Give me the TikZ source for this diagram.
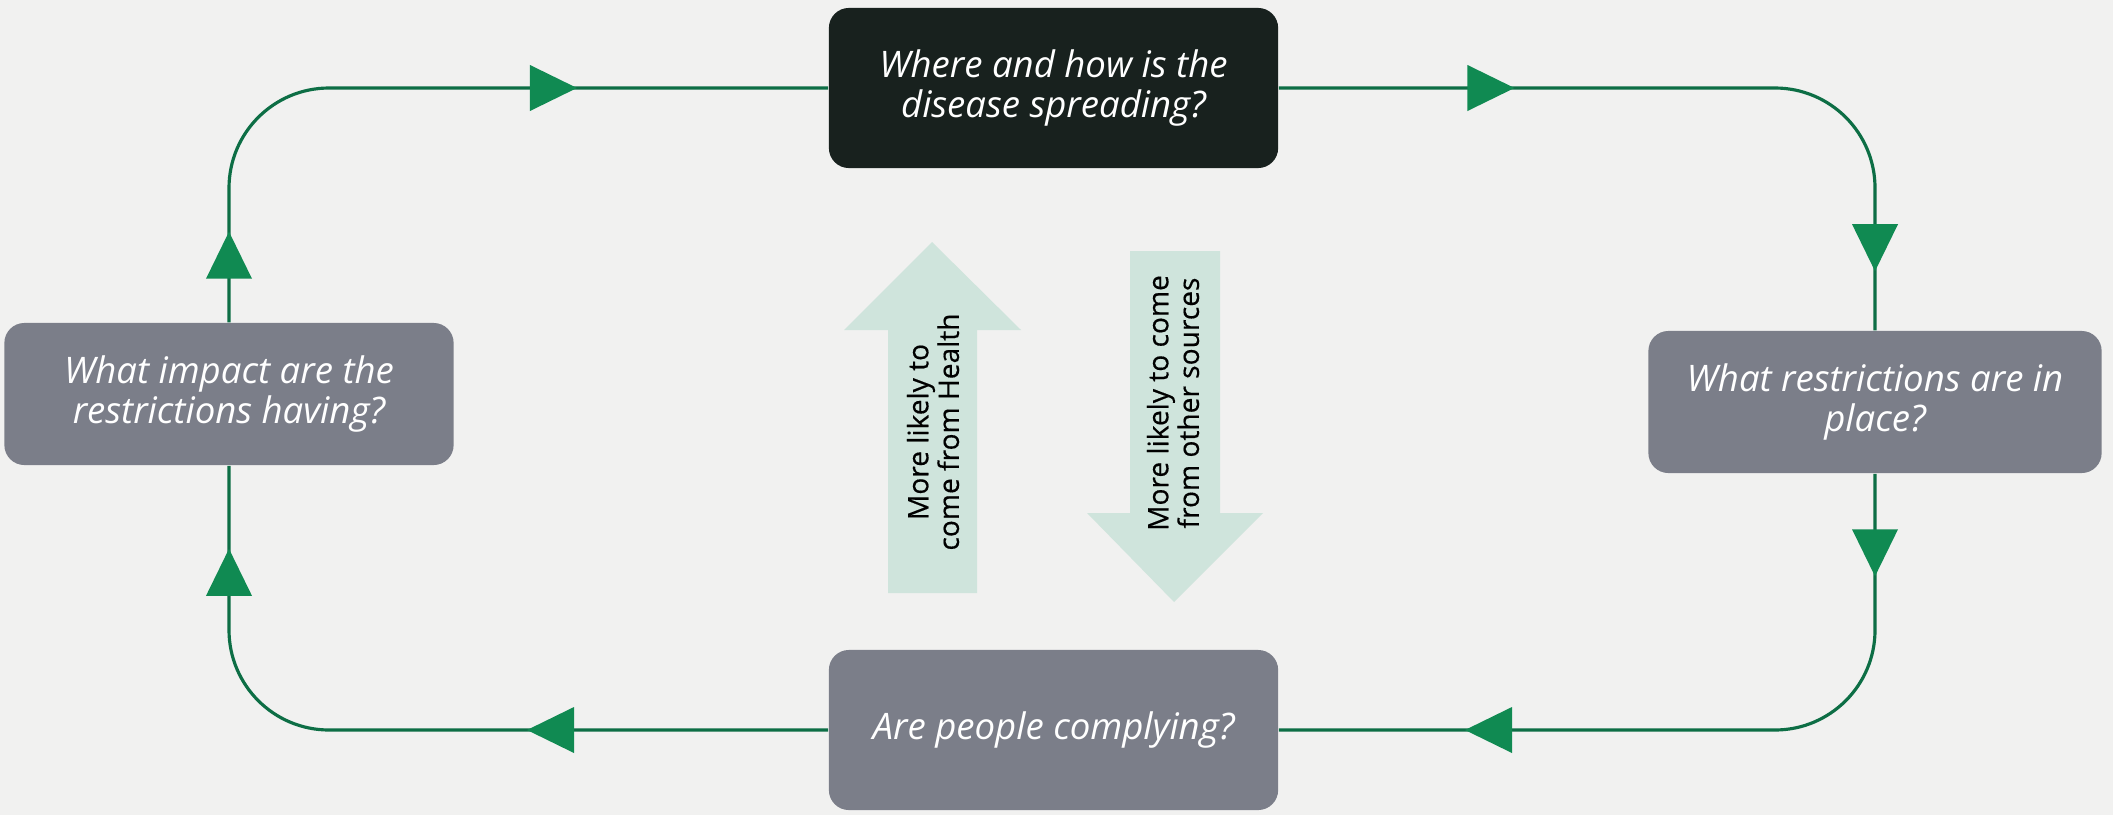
\documentclass[tikz,border=0pt]{standalone}
\usepackage{fontspec}
\setmainfont{Open Sans}
\newfontfamily\arrowfont[FakeBold=0.4]{Open Sans}
\usetikzlibrary{decorations.markings}

\definecolor{paper}{HTML}{F1F1F0}
\definecolor{slate}{HTML}{7B7E89}
\definecolor{darkbox}{HTML}{18211E}
\definecolor{mint}{HTML}{CFE4DC}
\definecolor{linegreen}{HTML}{0D6E45}
\definecolor{headgreen}{HTML}{108A52}

% filled triangular head placed along a connector
\newcommand\looptip{\fill[headgreen, sharp corners] (0.235cm,0) -- (-0.235cm,0.23cm) -- (-0.235cm,-0.23cm) -- cycle;}

\begin{document}
\begin{tikzpicture}[x=0.01cm,y=-0.01cm,
  qbox/.style={rectangle, rounded corners=0.2cm, fill=slate, text=white,
    align=center, inner sep=0pt, font=\fontsize{10.4}{11.6}\selectfont\itshape},
  cycleline/.style={draw=linegreen, line width=0.9pt, rounded corners=1cm},
  tips/.style 2 args={postaction={decorate}, decoration={markings,
    mark=at position #1 with {\looptip},
    mark=at position #2 with {\looptip}}},
  bigarrow/.style={fill=mint},
  arrowtext/.style={rotate=90, align=center, text=black, inner sep=0pt,
    font=\arrowfont\fontsize{8}{8.7}\selectfont}
]
% page
\fill[paper] (0,0) rectangle (2113,815);
\path[use as bounding box] (0,0) rectangle (2113,815);

% question boxes
\node[qbox, fill=darkbox, minimum width=4.49cm, minimum height=1.6cm] (T) at (1053.5,88)
  {Where and how is the\\disease spreading?};
\node[qbox, minimum width=4.53cm, minimum height=1.42cm] (R) at (1875,402)
  {What restrictions are in\\place?};
\node[qbox, minimum width=4.49cm, minimum height=1.6cm] (B) at (1053.5,730)
  {Are people complying?};
\node[qbox, minimum width=4.49cm, minimum height=1.42cm] (L) at (229,394)
  {What impact are the\\restrictions having?};

% the cycle of connectors
\draw[cycleline, tips={2.12cm}{7.125cm}] (T.east) -| (R.north);
\draw[cycleline, tips={0.79cm}{5.995cm}] (R.south) |- (B.east);
\draw[cycleline, tips={2.775cm}{7.135cm}] (B.west) -| (L.south);
\draw[cycleline, tips={0.67cm}{5.155cm}] (L.north) |- (T.west);

% central block arrows
\fill[bigarrow] (888,593) -- (888,330) -- (844,330) -- (932,242) -- (1021,330)
  -- (977,330) -- (977,593) -- cycle;
\node[arrowtext] (up) at (933,432) {More likely to\\come from Health};
\fill[bigarrow] (1130,251) -- (1130,513) -- (1087,513) -- (1174,602) -- (1263,513)
  -- (1220,513) -- (1220,251) -- cycle;
\node[arrowtext] (down) at (1173,403) {More likely to come\\from other sources};
\end{tikzpicture}
\end{document}
